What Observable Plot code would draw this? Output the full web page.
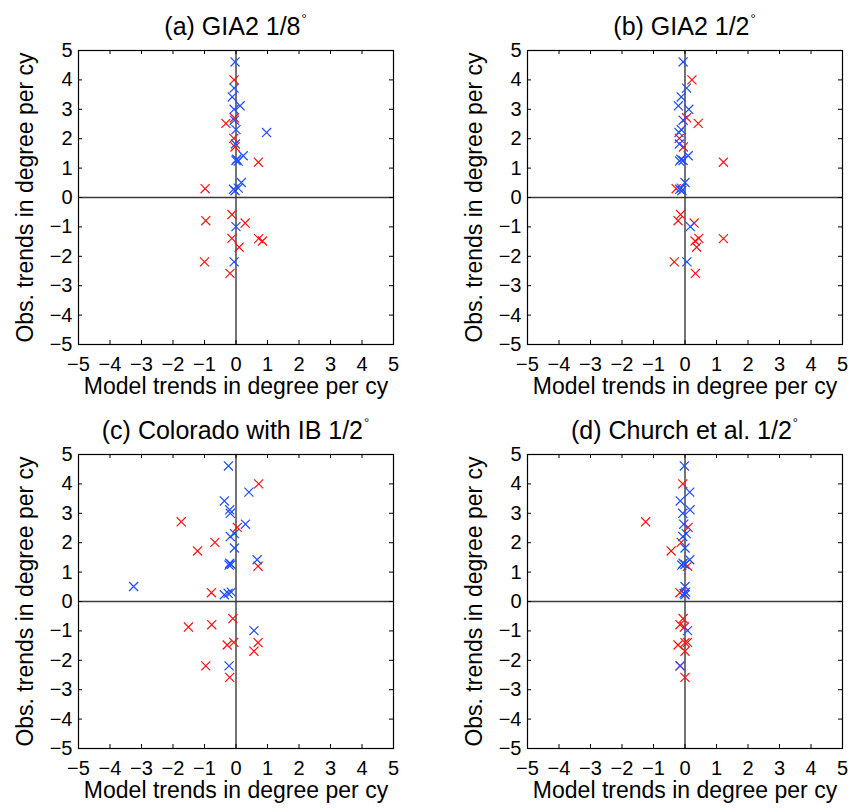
<!DOCTYPE html>
<html>
<head>
<meta charset="utf-8">
<script src="https://cdn.jsdelivr.net/npm/d3@7"></script>
<script src="https://cdn.jsdelivr.net/npm/@observablehq/plot@0.6"></script>
<style>
  html, body { margin: 0; padding: 0; background: #fff; }
  #fig { position: relative; width: 849px; height: 808px; font-family: "Liberation Sans", Arial, Helvetica, sans-serif; }
  .panel { position: absolute; width: 400px; height: 404px; }
  .title { position: absolute; font-size: 25px; line-height: 30px; color: #000; white-space: nowrap; transform: translateX(-50%); }
  .title sup { font-size: 13px; vertical-align: 12px; margin-left: 1px; line-height: 0; }
</style>
</head>
<body>
<div id="fig"></div>
<script>
// Observed trends (shared by all panels)
const blueObs = [4.61, 3.72, 3.42, 3.12, 3.0, 2.63, 2.31, 2.21, 1.82, 1.42, 1.30, 1.26, 1.24, 0.51, 0.32, 0.28, 0.23, -0.99, -2.19];
const redObs  = [4.0, 2.71, 2.52, 2.01, 1.72, 1.2, 0.3, -0.58, -0.79, -0.87, -1.39, -1.4, -1.48, -1.69, -2.19, -2.58];

// Model trends per panel
const blueModelA = [-0.03, -0.06, -0.12, 0.13, -0.06, -0.05, 0.0, 0.97, -0.02, 0.23, 0.02, 0.0, 0.07, 0.17, 0.07, -0.08, -0.03, 0.0, -0.06];
const redModelA  = [-0.06, -0.05, -0.32, -0.07, -0.03, 0.71, -0.98, -0.13, -0.96, 0.29, -0.13, 0.72, 0.84, 0.1, -1.0, -0.19];

const blueModelB = [-0.06, 0.05, -0.12, -0.21, 0.12, -0.06, -0.12, -0.19, -0.18, 0.1, -0.13, -0.06, -0.17, 0.0, -0.12, -0.17, -0.1, 0.17, 0.06];
const redModelB  = [0.22, 0.05, 0.42, -0.18, -0.05, 1.22, -0.28, -0.14, -0.22, 0.29, 0.44, 1.22, 0.32, 0.37, -0.34, 0.33];

const blueModelC = [-0.24, 0.41, -0.37, -0.2, -0.18, 0.3, -0.05, -0.18, -0.05, 0.67, -0.2, -0.15, -0.22, -3.25, -0.15, -0.25, -0.37, 0.57, -0.22];
const redModelC  = [0.72, -1.74, 0.04, -0.67, -1.22, 0.7, -0.78, -0.1, -0.77, -1.51, -0.07, 0.7, -0.28, 0.57, -0.96, -0.2];

const blueModelD = [-0.02, 0.15, -0.15, 0.16, -0.07, -0.04, 0.04, -0.07, 0.0, 0.15, -0.06, 0.0, -0.1, 0.0, 0.02, -0.03, 0.0, 0.08, -0.16];
const redModelD  = [-0.07, -1.25, 0.1, -0.12, -0.44, 0.08, -0.16, -0.06, -0.16, -0.02, 0.08, 0.0, -0.22, 0.0, -0.15, 0.0];

const titles = [
  ["(a) GIA2 1/8", "°"],
  ["(b) GIA2 1/2", "°"],
  ["(c) Colorado with IB 1/2", "°"],
  ["(d) Church et al. 1/2", "°"]
];
const ticks = [-5, -4, -3, -2, -1, 0, 1, 2, 3, 4, 5];
const xLabel = "Model trends in degree per cy";
const yLabel = "Obs. trends in degree per cy";

const panels = [
  {bx: blueModelA, rx: redModelA, left: 0,   top: 0},
  {bx: blueModelB, rx: redModelB, left: 449, top: 0},
  {bx: blueModelC, rx: redModelC, left: 0,   top: 404},
  {bx: blueModelD, rx: redModelD, left: 449, top: 404}
];

const BLUE = "#1f4dff", RED = "#ff1010";
const fig = document.getElementById("fig");

panels.forEach((p, i) => {
  const blue = blueObs.map((y, j) => ({x: p.bx[j], y}));
  const red = redObs.map((y, j) => ({x: p.rx[j], y}));
  const W = 400, H = 404, mL = 78, mR = 7, mT = 50, mB = 60;
  const innerH = H - mT - mB, innerW = W - mL - mR;
  const chart = Plot.plot({
    width: W, height: H,
    marginLeft: mL, marginRight: mR, marginTop: mT, marginBottom: mB,
    x: {domain: [-5, 5]},
    y: {domain: [-5, 5]},
    style: {fontFamily: "'Liberation Sans', Arial, Helvetica, sans-serif", fontSize: "20px", color: "#000", background: "transparent", overflow: "visible"},
    marks: [
      Plot.ruleX([0], {stroke: "#3a3a3a", strokeWidth: 1.4}),
      Plot.ruleY([0], {stroke: "#3a3a3a", strokeWidth: 1.4}),
      Plot.tickX(ticks, {x: d => d, insetBottom: innerH - 4, stroke: "#000"}),
      Plot.tickX(ticks, {x: d => d, insetTop: innerH - 4, stroke: "#000"}),
      Plot.tickY(ticks, {y: d => d, insetRight: innerW - 4, stroke: "#000"}),
      Plot.tickY(ticks, {y: d => d, insetLeft: innerW - 4, stroke: "#000"}),
      Plot.frame({stroke: "#000", strokeWidth: 1.2}),
      Plot.axisX(ticks, {tickSize: 0, tickPadding: 12, label: null}),
      Plot.axisY(ticks, {tickSize: 0, tickPadding: 6, label: null}),
      Plot.dot(red, {x: "x", y: "y", symbol: "times", stroke: RED, r: 4.2, strokeWidth: 1.2}),
      Plot.dot(blue, {x: "x", y: "y", symbol: "times", stroke: BLUE, r: 4.2, strokeWidth: 1.2}),
      Plot.text([xLabel], {frameAnchor: "bottom", textAnchor: "middle", lineAnchor: "middle", dy: 42, fontSize: 23, fill: "#000"}),
      Plot.text([yLabel], {frameAnchor: "left", textAnchor: "middle", lineAnchor: "middle", dx: -53, rotate: -90, fontSize: 23, fill: "#000"})
    ]
  });
  const wrap = document.createElement("div");
  wrap.className = "panel";
  wrap.style.left = p.left + "px";
  wrap.style.top = p.top + "px";
  wrap.appendChild(chart);
  fig.appendChild(wrap);

  const t = document.createElement("div");
  t.className = "title";
  t.style.left = (p.left + mL + innerW / 2) + "px";
  t.style.top = (p.top + 11) + "px";
  t.innerHTML = titles[i][0] + "<sup>" + titles[i][1] + "</sup>";
  fig.appendChild(t);
});
</script>
</body>
</html>
